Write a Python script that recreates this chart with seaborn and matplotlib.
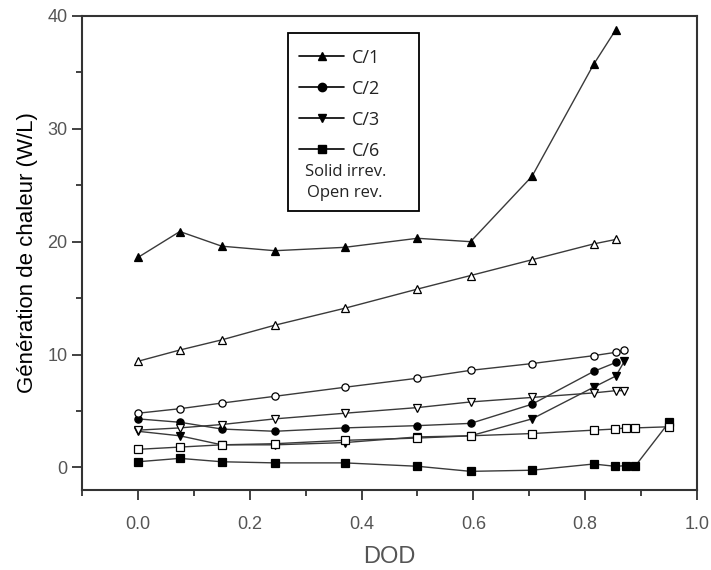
import matplotlib
matplotlib.use("Agg")
import matplotlib.pyplot as plt
from matplotlib.lines import Line2D
from matplotlib.patches import Rectangle
from matplotlib.ticker import MultipleLocator, FormatStrFormatter
import seaborn as sns

# valeurs
dod = [0.0, 0.075, 0.15, 0.245, 0.37, 0.5, 0.595, 0.705, 0.815, 0.855]
dod_ext = dod + [0.87]
dod_c6 = [0.0, 0.075, 0.15, 0.245, 0.37, 0.5, 0.595, 0.705, 0.815, 0.853, 0.873, 0.89, 0.95]

c1_irr = [18.6, 20.9, 19.6, 19.2, 19.5, 20.3, 20.0, 25.8, 35.7, 38.8]
c1_rev = [9.4, 10.4, 11.3, 12.6, 14.1, 15.8, 17.0, 18.4, 19.8, 20.2]
c2_irr = [4.3, 4.0, 3.4, 3.2, 3.5, 3.7, 3.9, 5.6, 8.5, 9.3]
c2_rev = [4.8, 5.2, 5.7, 6.3, 7.1, 7.9, 8.6, 9.2, 9.9, 10.2, 10.4]
c3_irr = [3.2, 2.8, 2.0, 2.0, 2.2, 2.7, 2.8, 4.3, 7.1, 8.1, 9.4]
c3_rev = [3.3, 3.5, 3.8, 4.3, 4.8, 5.3, 5.8, 6.2, 6.6, 6.8, 6.8]
c6_irr = [0.5, 0.8, 0.5, 0.4, 0.4, 0.1, -0.35, -0.25, 0.3, 0.1, 0.15, 0.15, 4.0]
c6_rev = [1.6, 1.8, 2.0, 2.1, 2.4, 2.6, 2.8, 3.0, 3.3, 3.4, 3.5, 3.5, 3.6]

rates = ["C/1", "C/2", "C/3", "C/6"]
markers = ["^", "o", "v", "s"]

sns.set_style("ticks")
plt.rcParams["font.family"] = ["Liberation Sans", "DejaVu Sans"]

fig = plt.figure(figsize=(7.11, 5.70), dpi=100)
ax = fig.add_axes([0.1153, 0.1404, 0.865, 0.8316])

series = [
    (dod, c1_irr, "^", True), (dod, c1_rev, "^", False),
    (dod, c2_irr, "o", True), (dod_ext, c2_rev, "o", False),
    (dod_ext, c3_irr, "v", True), (dod_ext, c3_rev, "v", False),
    (dod_c6, c6_irr, "s", True), (dod_c6, c6_rev, "s", False),
]
for x, y, m, solid in series:
    sns.lineplot(x=x, y=y, ax=ax, color="#3a3a3a", lw=1.0, marker=m,
                 markersize=5.2, markerfacecolor="black" if solid else "white",
                 markeredgecolor="black", markeredgewidth=0.9, estimator=None)

ax.set_xlim(-0.1, 1.0)
ax.set_ylim(-2, 40)
ax.xaxis.set_major_locator(MultipleLocator(0.2))
ax.xaxis.set_minor_locator(MultipleLocator(0.1))
ax.yaxis.set_major_locator(MultipleLocator(10))
ax.yaxis.set_minor_locator(MultipleLocator(5))
ax.xaxis.set_major_formatter(FormatStrFormatter("%.1f"))
ax.tick_params(which="major", length=7, width=1.3, colors="#333333",
               labelcolor="#555555", labelsize=13, direction="out")
ax.tick_params(which="minor", length=4, width=1.3, colors="#333333", direction="out")
ax.tick_params(axis="x", pad=12)
for sp in ax.spines.values():
    sp.set_linewidth(1.5)
    sp.set_color("#333333")

ax.set_xlabel("DOD", fontsize=17, color="#555555", labelpad=9)
ax.set_ylabel("Génération de chaleur (W/L)", fontsize=16, color="black", labelpad=7)

# légende encadrée
handles = [Line2D([0], [0], color="black", lw=1.2, marker=m, markersize=6,
                  markerfacecolor="black") for m in markers]
ax.legend(handles, rates, loc="upper left", bbox_to_anchor=(0.327, 0.965),
          frameon=False, handlelength=2.5, labelspacing=0.72, handletextpad=0.4,
          prop={"family": "Open Sans", "size": 13}, labelcolor="#222222")
ax.add_patch(Rectangle((0.335, 0.589), 0.213, 0.375, transform=ax.transAxes,
                       fill=False, edgecolor="black", lw=1.3))
ax.text(0.428, 0.671, "Solid irrev.", transform=ax.transAxes, ha="center",
        va="center", fontsize=12, family="Open Sans", color="#222222")
ax.text(0.428, 0.627, "Open rev.", transform=ax.transAxes, ha="center",
        va="center", fontsize=12, family="Open Sans", color="#222222")

fig.savefig("out.png", dpi=100)
